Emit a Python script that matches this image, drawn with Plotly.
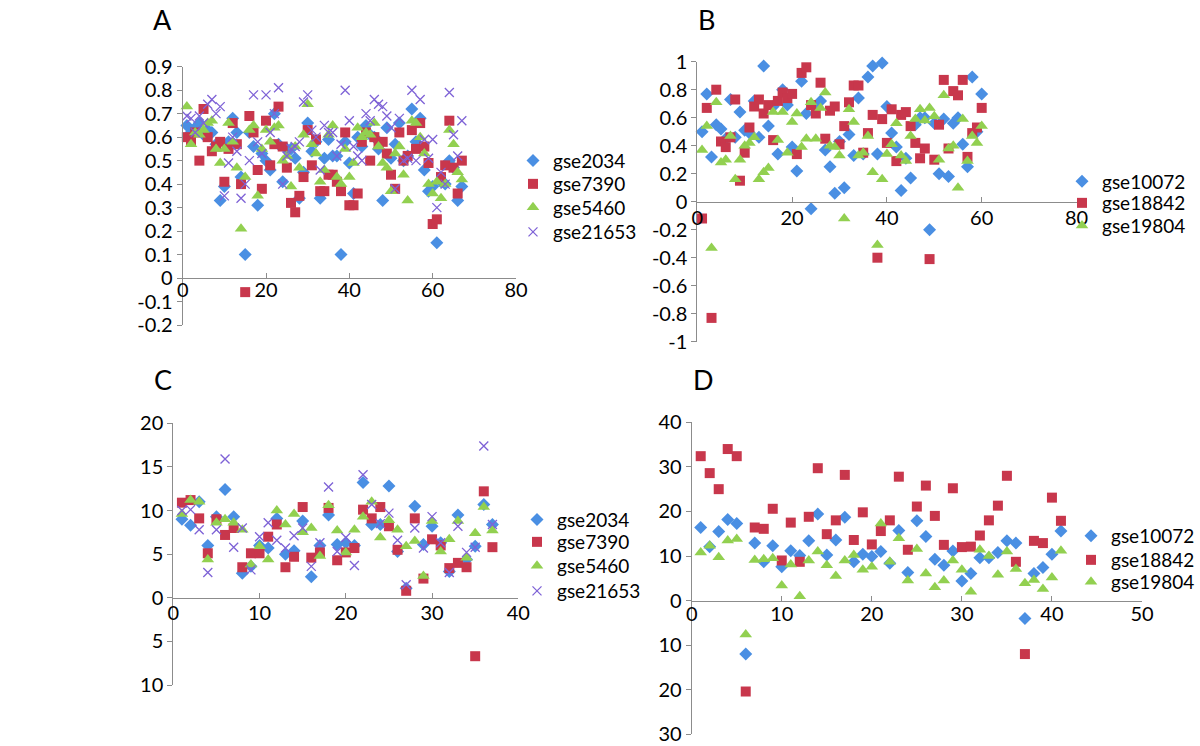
import plotly.graph_objects as go

# ---------------- data ----------------
a_x = list(range(1, 68))
a_gse2034 = [0.65,0.62,0.64,0.66,0.61,0.63,0.62,0.57,0.33,0.39,
             0.58,0.68,0.62,0.43,0.10,0.62,0.56,0.31,0.53,0.50,
             0.46,0.70,0.57,0.41,0.55,0.55,0.51,0.34,0.45,0.66,
             0.54,0.58,0.34,0.51,0.59,0.52,0.52,0.10,0.58,0.49,
             0.36,0.60,0.56,0.65,0.61,0.60,0.55,0.33,0.64,0.51,
             0.57,0.66,0.50,0.52,0.72,0.58,0.68,0.46,0.37,0.39,
             0.15,0.41,0.40,0.50,0.47,0.33,0.39]
a_gse7390 = [0.60,0.58,0.62,0.50,0.72,0.60,0.54,0.56,0.58,0.41,
             0.55,0.66,0.57,0.40,-0.06,0.69,0.62,0.46,0.38,0.67,
             0.48,0.57,0.73,0.56,0.47,0.32,0.28,0.35,0.43,0.63,
             0.48,0.59,0.37,0.37,0.44,0.44,0.41,0.37,0.62,0.31,
             0.31,0.36,0.58,0.62,0.50,0.60,0.57,0.58,0.53,0.44,
             0.38,0.62,0.50,0.52,0.63,0.55,0.66,0.56,0.49,0.23,
             0.25,0.43,0.48,0.67,0.47,0.36,0.50]
a_gse5460 = [0.73,0.57,0.62,0.61,0.63,0.66,0.67,0.55,0.49,0.55,
             0.66,0.58,0.47,0.21,0.43,0.63,0.65,0.35,0.55,0.63,
             0.58,0.64,0.65,0.50,0.52,0.39,0.56,0.47,0.61,0.74,
             0.57,0.53,0.41,0.46,0.61,0.65,0.43,0.40,0.55,0.43,
             0.49,0.64,0.60,0.62,0.61,0.66,0.56,0.49,0.47,0.37,
             0.53,0.56,0.44,0.33,0.67,0.66,0.60,0.53,0.40,0.36,
             0.41,0.34,0.40,0.63,0.57,0.45,0.42]
a_gse21653 = [0.69,0.68,0.62,0.69,0.66,0.74,0.76,0.70,0.73,0.35,
              0.49,0.60,0.54,0.34,0.40,0.50,0.78,0.58,0.53,0.78,
              0.62,0.70,0.81,0.40,0.52,0.55,0.56,0.58,0.75,0.78,
              0.63,0.60,0.46,0.65,0.62,0.62,0.52,0.57,0.80,0.67,
              0.56,0.52,0.50,0.70,0.67,0.76,0.74,0.73,0.69,0.64,
              0.38,0.68,0.50,0.51,0.80,0.50,0.76,0.59,0.51,0.59,
              0.30,0.45,0.40,0.79,0.61,0.52,0.67]

b_x = list(range(1, 61))
b_gse10072 = [0.50,0.77,0.32,0.55,0.52,0.45,0.73,0.46,0.64,0.51,
              0.49,0.72,0.46,0.97,0.54,0.68,0.34,0.80,0.69,0.39,
              0.22,0.86,0.63,-0.05,0.68,0.72,0.37,0.25,0.06,0.43,
              0.10,0.48,0.33,0.74,0.34,0.89,0.97,0.34,0.99,0.68,
              0.49,0.39,0.08,0.31,0.17,0.55,0.60,0.60,-0.20,0.56,
              0.20,0.59,0.18,0.56,0.60,0.41,0.25,0.89,0.50,0.77]
b_gse18842 = [-0.12,0.67,-0.83,0.80,0.43,0.39,0.46,0.73,0.15,0.35,
              0.53,0.68,0.73,0.63,0.69,0.44,0.72,0.78,0.74,0.77,
              0.34,0.92,0.96,0.69,0.63,0.85,0.45,0.65,0.68,0.41,
              0.54,0.71,0.83,0.83,0.35,0.49,0.62,-0.40,0.59,0.42,
              0.66,0.29,0.62,0.64,0.54,0.42,0.31,0.38,-0.41,0.30,
              0.55,0.87,0.38,0.79,0.76,0.87,0.32,0.49,0.53,0.67]
b_gse19804 = [0.37,0.54,-0.33,0.71,0.28,0.30,0.47,0.16,0.30,0.40,
              0.42,0.46,0.16,0.21,0.24,0.64,0.44,0.64,0.35,0.57,
              0.63,0.39,0.45,0.71,0.45,0.67,0.78,0.40,0.39,0.33,
              -0.12,0.66,0.57,0.33,0.35,0.47,0.21,-0.31,0.16,0.34,
              0.41,0.56,0.33,0.29,0.47,0.59,0.66,0.58,0.67,0.61,
              0.30,0.76,0.38,0.40,0.10,0.59,0.29,0.47,0.42,0.54]

c_x = list(range(1, 38))
c_gse2034 = [9.0,8.3,11.0,6.0,9.3,12.4,9.3,2.8,3.6,6.0,
             5.7,9.1,5.0,5.4,8.8,2.4,6.0,9.5,6.1,6.3,
             6.0,13.2,8.4,8.4,12.8,5.3,1.1,10.5,6.1,8.2,
             6.3,3.0,9.5,4.4,5.9,10.7,8.4]
c_gse7390 = [10.9,11.2,9.1,5.1,9.0,7.2,8.0,3.5,5.1,5.1,
             7.0,8.4,3.5,4.7,10.4,4.6,5.2,10.3,4.3,5.2,
             5.7,10.1,9.1,10.4,8.2,5.5,0.8,9.1,2.2,6.7,
             6.0,3.4,4.0,3.5,-6.7,12.2,5.8]
c_gse5460 = [9.6,11.2,11.0,4.4,8.6,9.0,8.6,7.8,3.8,5.9,
             4.4,10.0,8.4,9.6,7.5,8.0,4.8,10.6,7.7,5.2,
             7.8,9.3,11.0,6.9,8.9,7.8,5.9,6.5,2.5,8.8,
             5.3,6.7,8.8,4.6,7.4,10.4,7.7]
c_gse21653 = [10.0,10.1,7.8,2.9,7.8,15.9,5.8,8.0,3.2,7.0,
              8.6,6.6,5.7,7.1,8.0,3.6,6.3,12.7,5.3,6.9,
              3.7,14.1,10.7,8.5,9.7,6.6,1.5,8.0,5.7,9.3,
              6.3,2.9,8.2,5.2,5.8,17.4,8.4]

d_x = list(range(1, 42))
d_gse10072 = [16.4,12.1,15.5,18.2,17.3,-12.0,12.9,8.7,12.3,7.6,
              11.2,10.1,13.4,19.4,10.2,13.6,18.7,8.7,10.4,9.9,
              11.0,8.4,15.7,6.3,17.9,14.4,9.3,7.9,11.1,4.4,
              6.1,9.6,9.6,10.8,13.4,12.9,-4.0,6.1,7.4,10.4,
              15.6]
d_gse18842 = [32.4,28.6,25.0,34.0,32.4,-20.4,16.4,16.1,20.6,9.0,
              17.5,8.7,18.8,29.7,14.9,18.0,28.2,13.6,19.8,12.6,
              15.6,18.0,27.8,11.4,21.1,25.8,19.0,12.5,25.2,12.0,
              12.1,14.6,18.0,21.3,28.0,8.7,-12.0,13.4,12.9,23.1,
              17.9]
d_gse19804 = [10.8,12.3,9.7,13.5,13.8,-7.6,9.1,9.3,9.5,3.4,
              8.1,1.0,9.0,11.0,7.9,5.5,9.0,10.2,6.9,7.6,
              17.3,8.7,14.0,4.5,11.6,6.1,3.0,4.5,9.0,6.9,
              2.0,11.4,10.0,5.8,11.0,7.1,3.9,4.6,2.6,5.2,
              11.2]

# tick values / labels
a_xticks = [0, 20, 40, 60, 80]
a_yticks = [-0.2, -0.1, 0, 0.1, 0.2, 0.3, 0.4, 0.5, 0.6, 0.7, 0.8, 0.9]
a_ylabels = ["-0.2", "-0.1", "0", "0.1", "0.2", "0.3", "0.4", "0.5", "0.6", "0.7", "0.8", "0.9"]
b_xticks = [0, 20, 40, 60, 80]
b_yticks = [-1, -0.8, -0.6, -0.4, -0.2, 0, 0.2, 0.4, 0.6, 0.8, 1]
b_ylabels = ["-1", "-0.8", "-0.6", "-0.4", "-0.2", "0", "0.2", "0.4", "0.6", "0.8", "1"]
c_xticks = [0, 10, 20, 30, 40]
c_yticks = [-10, -5, 0, 5, 10, 15, 20]
c_ylabels = ["10", "5", "0", "5", "10", "15", "20"]
d_xticks = [0, 10, 20, 30, 40, 50]
d_yticks = [-30, -20, -10, 0, 10, 20, 30, 40]
d_ylabels = ["30", "20", "10", "0", "10", "20", "30", "40"]

# ---------------- layout helpers (screen px -> paper) ----------------
W, H = 1200, 746
OX, OY = 0, 0                  # page body margin is removed by the post script
FW, FH = W - OX, H - OY


def fx(px):
    return (px - OX) / FW


def fy(py):
    return 1 - (py - OY) / FH


FONT = "Lato"
BLUE = "#4A8FE3"
RED = "#C8374C"
GREEN = "#92D050"
PURPLE = "#7E62D6"
AXIS = "#8C8C8C"


def mk(kind):
    if kind == "diamond":
        return dict(symbol="diamond", size=10, color=BLUE)
    if kind == "square":
        return dict(symbol="square", size=10, color=RED)
    if kind == "triangle":
        return dict(symbol="triangle-up", size=11, color=GREEN)
    return dict(symbol="x-thin", size=9, color=PURPLE, line=dict(color=PURPLE, width=1.3))


# panel boxes in screen px: (left, right, top, bottom), ranges, x-label standoff,
# legend text start x and legend row centres
panels = [
    dict(key="A", suf="", box=(182.7, 516.0, 66.7, 325.0), xr=[0, 80], yr=[-0.2, 0.9],
         xs=a_x, xt=a_xticks, yt=a_yticks, ytl=a_ylabels, standoff=-6,
         items=[("gse2034", a_gse2034, "diamond"), ("gse7390", a_gse7390, "square"),
                ("gse5460", a_gse5460, "triangle"), ("gse21653", a_gse21653, "x")],
         leg_x=553, leg_rows=[157.7, 181.0, 204.5, 229.0]),
    dict(key="B", suf="2", box=(697.3, 1076.5, 61.7, 341.7), xr=[0, 80], yr=[-1, 1],
         xs=b_x, xt=b_xticks, yt=b_yticks, ytl=b_ylabels, standoff=-2,
         items=[("gse10072", b_gse10072, "diamond"), ("gse18842", b_gse18842, "square"),
                ("gse19804", b_gse19804, "triangle")],
         leg_x=1102, leg_rows=[178.3, 200.0, 222.7]),
    dict(key="C", suf="3", box=(173.3, 518.3, 423.3, 685.0), xr=[0, 40], yr=[-10, 20],
         xs=c_x, xt=c_xticks, yt=c_yticks, ytl=c_ylabels, standoff=-3,
         items=[("gse2034", c_gse2034, "diamond"), ("gse7390", c_gse7390, "square"),
                ("gse5460", c_gse5460, "triangle"), ("gse21653", c_gse21653, "x")],
         leg_x=557, leg_rows=[516.7, 539.0, 563.0, 588.0]),
    dict(key="D", suf="4", box=(691.7, 1142.0, 422.3, 734.3), xr=[0, 50], yr=[-30, 40],
         xs=d_x, xt=d_xticks, yt=d_yticks, ytl=d_ylabels, standoff=-5,
         items=[("gse10072", d_gse10072, "diamond"), ("gse18842", d_gse18842, "square"),
                ("gse19804", d_gse19804, "triangle")],
         leg_x=1111, leg_rows=[533.0, 557.0, 579.0]),
]

layout = dict(
    width=FW, height=FH,
    margin=dict(l=0, r=0, t=0, b=0, pad=0, autoexpand=False),
    paper_bgcolor="white", plot_bgcolor="white",
    font=dict(family=FONT, size=20, color="#000000"),
    showlegend=True,
    hovermode=False,
)

fig = go.Figure()
leg_n = 0
for p in panels:
    suf = p["suf"]
    for (name, ys, kind), row in zip(p["items"], p["leg_rows"]):
        leg_n += 1
        lg = "legend" if leg_n == 1 else "legend%d" % leg_n
        fig.add_trace(go.Scatter(x=p["xs"], y=ys, mode="markers", name=name, marker=mk(kind),
                                 xaxis="x" + suf, yaxis="y" + suf, legend=lg,
                                 cliponaxis=False))
        layout[lg] = dict(x=fx(p["leg_x"] - 40), y=fy(row - 16), xanchor="left", yanchor="top",
                          bgcolor="rgba(0,0,0,0)", borderwidth=0, itemwidth=30,
                          font=dict(family=FONT, size=19, color="#000"))

    l, r, t, b = p["box"]
    xd = [fx(l), fx(r)]
    yd = [fy(b), fy(t)]
    y0, y1 = p["yr"]
    zero_pos = yd[0] + (0 - y0) / (y1 - y0) * (yd[1] - yd[0])
    layout["xaxis" + suf] = dict(
        domain=xd, range=p["xr"], anchor="free", position=zero_pos, side="bottom",
        showgrid=False, zeroline=False, showline=True, linecolor=AXIS, linewidth=1,
        ticks="inside", ticklen=5, tickcolor=AXIS, tickvals=p["xt"],
        ticklabelstandoff=p["standoff"], tickfont=dict(family=FONT, size=20, color="#000"),
        fixedrange=True,
    )
    layout["yaxis" + suf] = dict(
        domain=yd, range=p["yr"], anchor="x" + suf,
        showgrid=False, zeroline=False, showline=True, linecolor=AXIS, linewidth=1,
        ticks="outside", ticklen=5, tickcolor=AXIS, tickvals=p["yt"], ticktext=p["ytl"],
        tickfont=dict(family=FONT, size=20, color="#000"), fixedrange=True,
    )

letters = [("A", 162, 19), ("B", 707, 19), ("C", 163, 379), ("D", 703, 379)]
layout["annotations"] = [
    dict(text=t, x=fx(x), y=fy(y), xref="paper", yref="paper", showarrow=False,
         xanchor="center", yanchor="middle", borderpad=0,
         font=dict(family=FONT, size=27, color="#000"))
    for t, x, y in letters
]

fig.update_layout(**layout)
fig.write_html("out.html", config={"displayModeBar": False, "staticPlot": False},
               post_script="document.body.style.margin = '0px';")
